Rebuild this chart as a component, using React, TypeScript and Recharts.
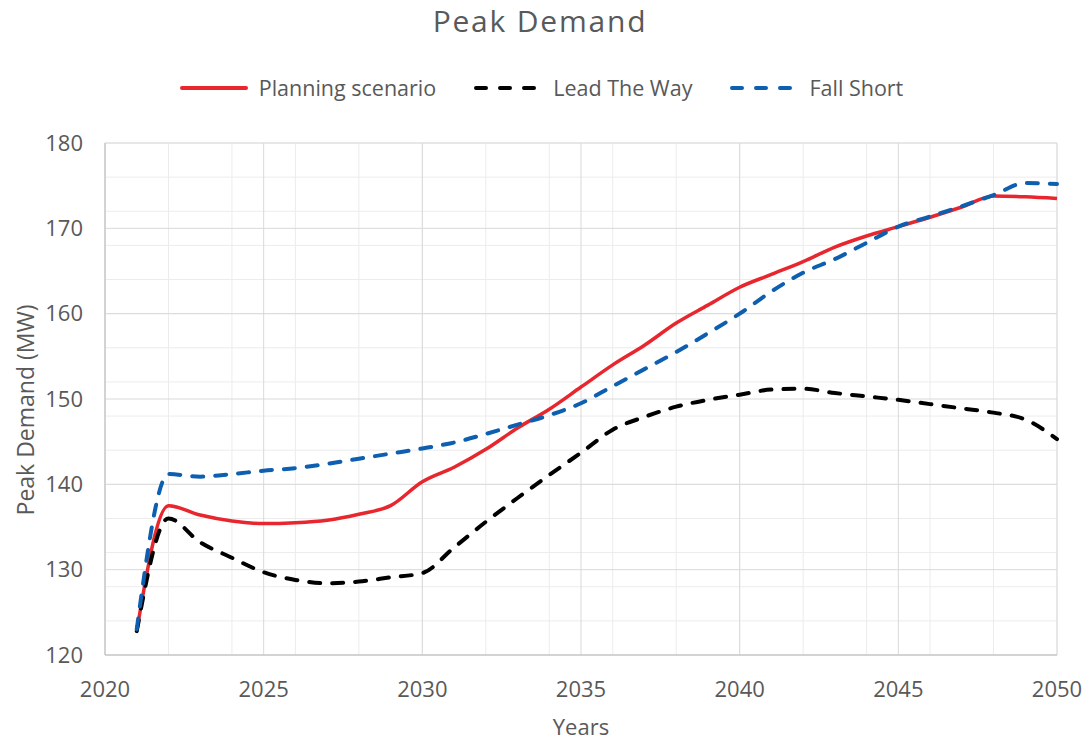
import React from 'react';
import {
  LineChart,
  Line,
  XAxis,
  YAxis,
  CartesianGrid,
} from 'recharts';

const years = [
  2021, 2022, 2023, 2024, 2025, 2026, 2027, 2028, 2029, 2030,
  2031, 2032, 2033, 2034, 2035, 2036, 2037, 2038, 2039, 2040,
  2041, 2042, 2043, 2044, 2045, 2046, 2047, 2048, 2049, 2050,
];

const planningScenario = [
  122.8, 137.5, 136.4, 135.7, 135.4, 135.5, 135.8, 136.5, 137.5, 140.3,
  142.0, 144.1, 146.6, 148.8, 151.4, 154.0, 156.3, 158.9, 161.0, 163.1,
  164.6, 166.1, 167.8, 169.1, 170.2, 171.3, 172.5, 173.8, 173.7, 173.5,
];

const leadTheWay = [
  122.8, 136.0, 133.2, 131.4, 129.7, 128.8, 128.4, 128.6, 129.1, 129.6,
  132.6, 135.6, 138.4, 141.1, 143.7, 146.4, 147.9, 149.1, 149.9, 150.5,
  151.1, 151.2, 150.7, 150.3, 149.9, 149.4, 148.9, 148.4, 147.6, 145.3,
];

const fallShort = [
  123.0, 141.2, 140.9, 141.2, 141.6, 141.9, 142.4, 143.0, 143.6, 144.2,
  144.9, 145.9, 147.0, 148.1, 149.5, 151.5, 153.5, 155.5, 157.7, 160.0,
  162.6, 164.8, 166.4, 168.3, 170.2, 171.4, 172.6, 173.9, 175.3, 175.2,
];

const xTicks = [2020, 2025, 2030, 2035, 2040, 2045, 2050];
const xMinorTicks = Array.from({ length: 31 }, (_, i) => 2020 + i);
const yTicks = [120, 130, 140, 150, 160, 170, 180];
const yMinorTicks = Array.from({ length: 31 }, (_, i) => 120 + i * 2);

const series = [
  { key: 'planning', name: 'Planning scenario', color: '#E8262E', dash: undefined as string | undefined },
  { key: 'lead', name: 'Lead The Way', color: '#000000', dash: '11 12' },
  { key: 'fall', name: 'Fall Short', color: '#0E5FAF', dash: '11 12' },
];

const data = years.map((year, i) => ({
  year,
  planning: planningScenario[i],
  lead: leadTheWay[i],
  fall: fallShort[i],
}));

const FONT = '"Open Sans", sans-serif';
const TEXT = '#595959';

const YLabel = ({ viewBox }: any) => {
  const x = 34;
  const y = viewBox.y + viewBox.height / 2 + 11;
  return (
    <text
      x={x}
      y={y}
      transform={`rotate(-90, ${x}, ${y})`}
      textAnchor="middle"
      fill={TEXT}
      fontSize={23}
      fontFamily={FONT}
    >
      Peak Demand (MW)
    </text>
  );
};

const App: React.FC = () => {
  return (
    <div style={{ position: 'absolute', left: 0, top: 0, width: 1086, height: 742, background: '#fff', fontFamily: FONT }}>
      <div
        style={{
          position: 'absolute', top: 0, left: 0, width: 1080, textAlign: 'center',
          fontSize: 30, lineHeight: 'normal', letterSpacing: 1.8, color: TEXT,
        }}
      >
        Peak Demand
      </div>
      <div
        style={{
          position: 'absolute', top: 76, left: 0, width: 1082,
          display: 'flex', justifyContent: 'center', gap: 37,
          fontSize: 21.5, lineHeight: '24px', color: TEXT,
        }}
      >
        {series.map(s => (
          <div key={s.key} style={{ display: 'flex', alignItems: 'center' }}>
            <svg width={70} height={20} style={{ marginRight: 10 }}>
              <line
                x1={3} y1={10} x2={67} y2={10}
                stroke={s.color}
                strokeWidth={4}
                strokeLinecap="round"
                strokeDasharray={s.dash ? '10 14' : undefined}
              />
            </svg>
            <span>{s.name}</span>
          </div>
        ))}
      </div>
      <LineChart
        width={1086}
        height={742}
        data={data}
        margin={{ top: 143, right: 29, bottom: 0, left: 0 }}
        style={{ position: 'absolute', left: 0, top: 0 }}
      >
        <XAxis xAxisId="minor" dataKey="year" type="number" domain={[2020, 2050]} ticks={xMinorTicks} hide />
        <YAxis yAxisId="minor" dataKey="planning" type="number" domain={[120, 180]} ticks={yMinorTicks} hide />
        <CartesianGrid xAxisId="minor" yAxisId="minor" stroke="#ECECEC" strokeWidth={1} />
        <CartesianGrid stroke="#D9D9D9" strokeWidth={1} />
        <XAxis
          dataKey="year"
          type="number"
          domain={[2020, 2050]}
          ticks={xTicks}
          height={87}
          tickSize={0}
          tickMargin={26}
          tick={{ fill: TEXT, fontSize: 22, fontFamily: FONT }}
          axisLine={{ stroke: '#BFBFBF' }}
          tickLine={false}
          label={{ value: 'Years', position: 'insideBottom', offset: 7, fill: TEXT, fontSize: 22, fontFamily: FONT }}
        />
        <YAxis
          type="number"
          domain={[120, 180]}
          ticks={yTicks}
          width={105}
          tickSize={0}
          tickMargin={22}
          tick={{ fill: TEXT, fontSize: 22, fontFamily: FONT }}
          axisLine={{ stroke: '#BFBFBF' }}
          tickLine={false}
          label={{ content: <YLabel /> }}
        />
        {series.map(s => (
          <Line
            key={s.key}
            type="monotone"
            dataKey={s.key}
            name={s.name}
            stroke={s.color}
            strokeWidth={s.dash ? 4 : 3.5}
            strokeDasharray={s.dash}
            strokeLinecap={s.dash ? 'round' : 'butt'}
            dot={false}
            isAnimationActive={false}
          />
        ))}
      </LineChart>
    </div>
  );
};

export default App;
